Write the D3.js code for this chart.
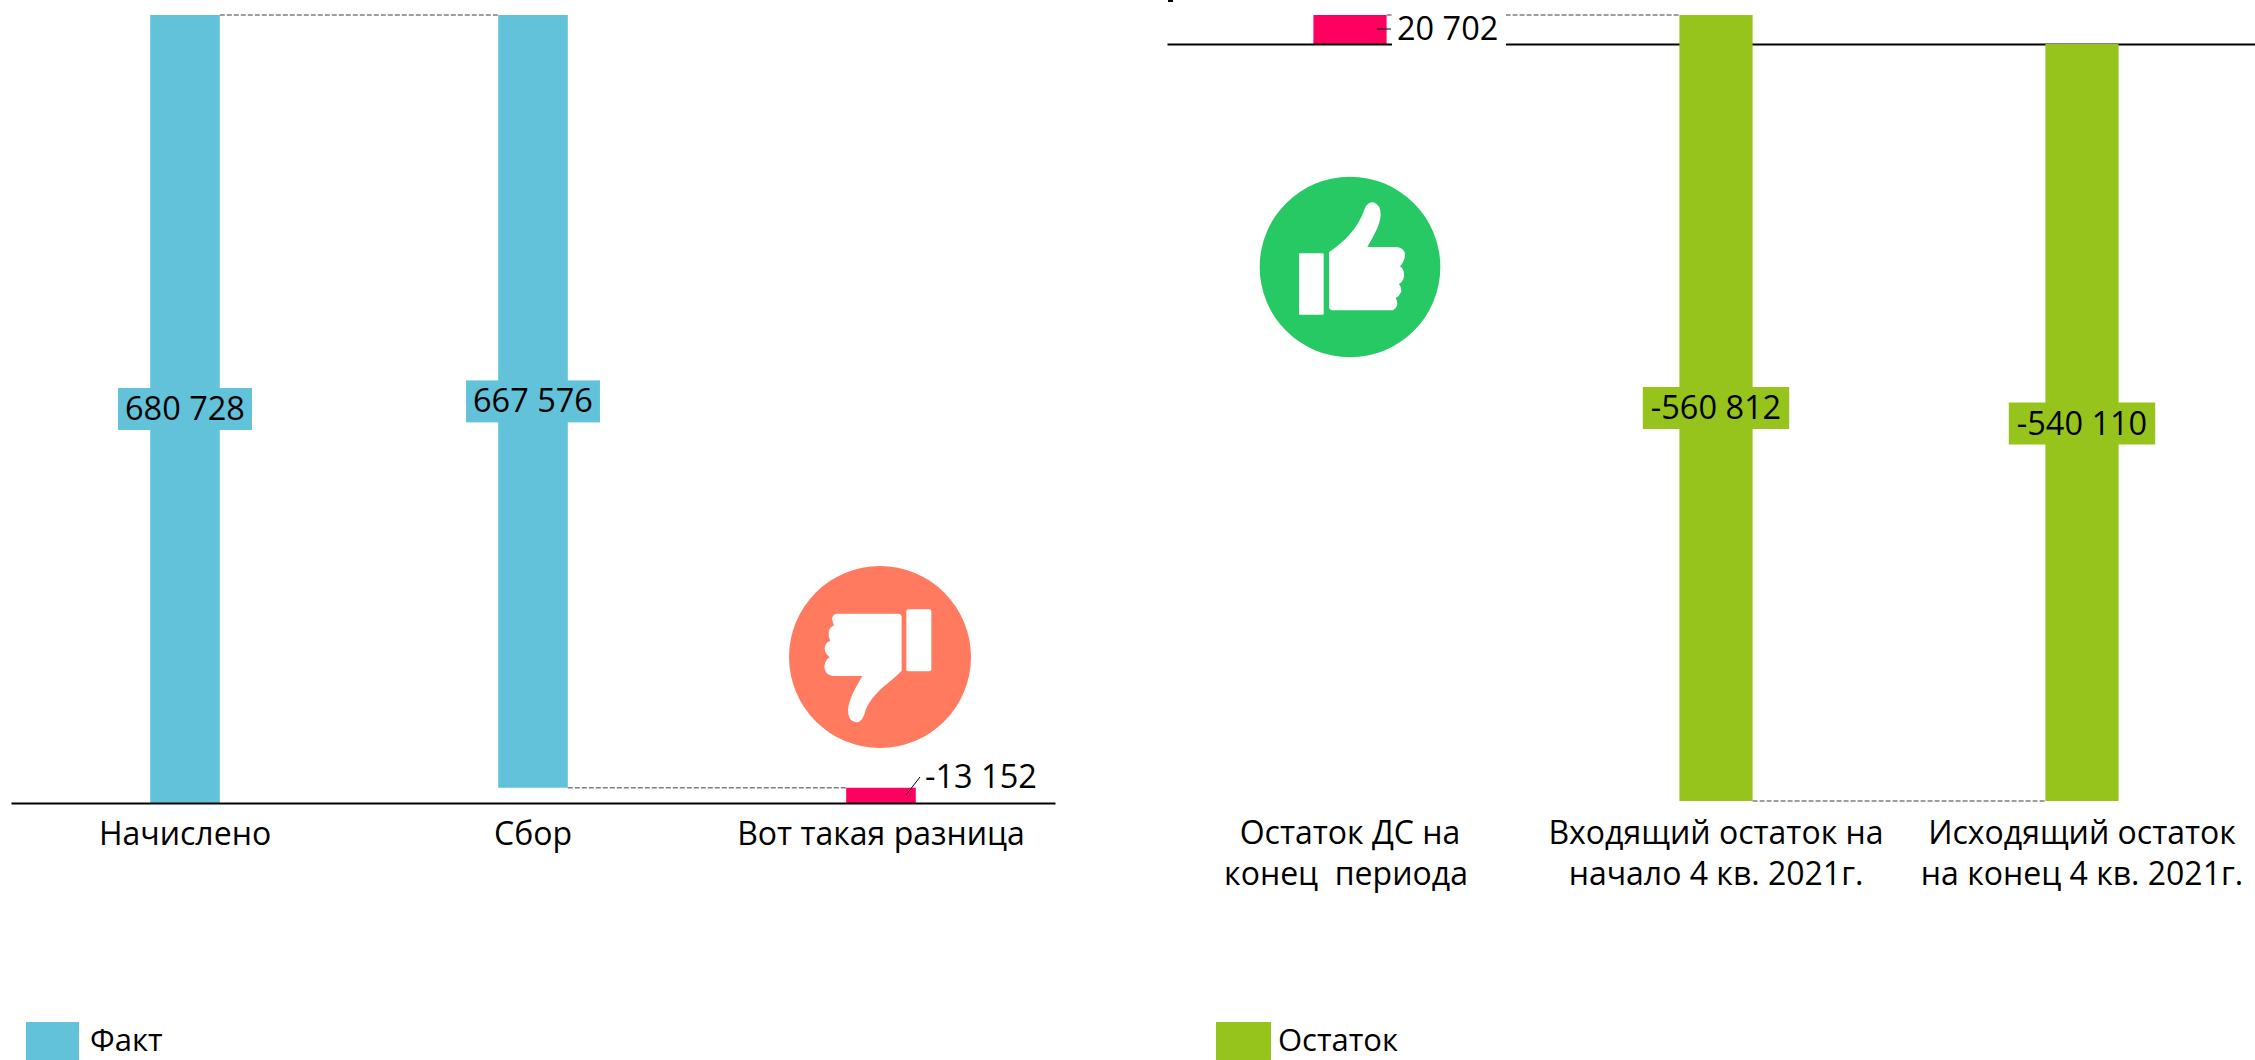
<!DOCTYPE html>
<html>
<head>
<meta charset="utf-8">
<script src="https://cdn.jsdelivr.net/npm/d3@7"></script>
<style>
  html, body { margin: 0; background: #fff; }
  svg { display: block; }
  text { font-family: "Open Sans", sans-serif; font-size: 32px; fill: #000; }
  .val { font-size: 32.5px; }
  .leg { font-size: 31px; }
</style>
</head>
<body>
<div id="chart"></div>
<script>
// left chart
const catsFact = ["Начислено", "Сбор", "Вот такая разница"];
const factFrom = [0, 13152, 0];
const factTo = [680728, 680728, 13152];
const factLabels = ["680 728", "667 576", "-13 152"];

// right chart
const catsOst = [["Остаток ДС на", "конец  периода"], ["Входящий остаток на", "начало 4 кв. 2021г."], ["Исходящий остаток", "на конец 4 кв. 2021г."]];
const ostFrom = [0, 20702, 0];
const ostTo = [20702, -540110, -540110];
const ostLabels = ["20 702", "-560 812", "-540 110"];

const blue = "#62c2da";
const green = "#97c41c";
const pink = "#ff0060";

const svg = d3.select("#chart").append("svg").attr("width", 2255).attr("height", 1060);

const xLeft = d3.scaleBand().domain(catsFact).range([11, 1055]).paddingInner(0.8).paddingOuter(0.4);
const yLeft = d3.scaleLinear().domain([0, 680728]).range([803, 15]);

const xKeys = catsOst.map(d => d.join(" "));
const xRight = d3.scaleBand().domain(xKeys).range([1167, 2265]).paddingInner(0.8).paddingOuter(0.4);
const yRight = d3.scaleLinear().domain([-540110, 20702]).range([801, 15]);

function bars(keys, from, to, x, y, colors) {
    svg.append("g").selectAll("rect").data(keys).enter().append("rect")
        .attr("x", d => x(d))
        .attr("width", x.bandwidth())
        .attr("y", (d, i) => y(Math.max(from[i], to[i])))
        .attr("height", (d, i) => Math.abs(y(from[i]) - y(to[i])))
        .attr("fill", (d, i) => colors[i]);
}

function connector(x1, x2, y) {
    svg.append("line")
        .attr("x1", x1).attr("x2", x2).attr("y1", y).attr("y2", y)
        .attr("stroke", "#7f7f7f").attr("stroke-width", 1.5)
        .attr("stroke-dasharray", "5 2");
}

function boxLabel(str, cx, cy, color, pad) {
    const g = svg.append("g");
    const t = g.append("text").attr("class", "val").attr("x", cx).attr("y", cy + 11).attr("text-anchor", "middle").text(str);
    const b = t.node().getBBox();
    g.insert("rect", "text")
        .attr("x", b.x - pad).attr("width", b.width + pad * 2)
        .attr("y", cy - 21).attr("height", 42)
        .attr("fill", color);
}

bars(catsFact, factFrom, factTo, xLeft, yLeft, [blue, blue, pink]);

// pink bar sits under the axis, the green ones over it
bars(xKeys.slice(0, 1), ostFrom.slice(0, 1), ostTo.slice(0, 1), xRight, yRight, [pink]);

// axes
const axisLeft = svg.append("g").attr("transform", "translate(0," + yLeft(0) + ")")
    .call(d3.axisBottom(xLeft).tickSize(0).tickPadding(0));
axisLeft.select(".domain").attr("stroke", "#000").attr("stroke-width", 2);
axisLeft.selectAll("text").attr("y", 42).attr("dy", 0).style("font-size", "32px").style("font-family", null);

const axisRight = svg.append("g").attr("transform", "translate(0," + yRight(0) + ")")
    .call(d3.axisBottom(xRight).tickSize(0).tickFormat(""));
axisRight.select(".domain").attr("stroke", "#000").attr("stroke-width", 2);

bars(xKeys.slice(1), ostFrom.slice(1), ostTo.slice(1), xRight, yRight, [green, green]);

// connectors between bars
connector(xLeft(catsFact[0]) + xLeft.bandwidth(), xLeft(catsFact[1]), yLeft(680728));
connector(xLeft(catsFact[1]) + xLeft.bandwidth(), xLeft(catsFact[2]), yLeft(13152));
connector(xRight(xKeys[0]) + xRight.bandwidth(), xRight(xKeys[1]), yRight(20702));
connector(xRight(xKeys[1]) + xRight.bandwidth(), xRight(xKeys[2]), yRight(-540110));

// two-line category labels
const catRight = svg.append("g");
catsOst.forEach((lines, i) => {
    const t = catRight.append("text")
        .attr("text-anchor", "middle")
        .attr("xml:space", "preserve");
    lines.forEach((s, j) => {
        t.append("tspan")
            .attr("x", xRight(xKeys[i]) + xRight.bandwidth() / 2 - (i == 0 && j == 1 ? 4 : 0))
            .attr("y", 844 + j * 41)
            .text(s);
    });
});

// value labels
boxLabel(factLabels[0], xLeft(catsFact[0]) + xLeft.bandwidth() / 2, (yLeft(0) + yLeft(680728)) / 2, blue, 7);
boxLabel(factLabels[1], xLeft(catsFact[1]) + xLeft.bandwidth() / 2, (yLeft(13152) + yLeft(680728)) / 2, blue, 7);
boxLabel(ostLabels[1], xRight(xKeys[1]) + xRight.bandwidth() / 2, (yRight(20702) + yRight(-540110)) / 2, green, 8);
boxLabel(ostLabels[2], xRight(xKeys[2]) + xRight.bandwidth() / 2, (yRight(0) + yRight(-540110)) / 2 + 1, green, 8);

// outside labels with leader lines
svg.append("line").attr("x1", 906).attr("y1", 795).attr("x2", 920).attr("y2", 777).attr("stroke", "#000").attr("stroke-width", 1);
svg.append("text").attr("class", "val").attr("x", 925).attr("y", 788).text(factLabels[2]);

svg.append("rect").attr("x", 1392).attr("y", 10).attr("width", 114).attr("height", 38).attr("fill", "#fff");
svg.append("line").attr("x1", 1377).attr("y1", 29).attr("x2", 1391).attr("y2", 29).attr("stroke", "#000").attr("stroke-width", 1);
svg.append("text").attr("class", "val").attr("x", 1397).attr("y", 40).text(ostLabels[0]);

// clipped remnant at the top edge
svg.append("rect").attr("x", 1168).attr("y", 0).attr("width", 5).attr("height", 2).attr("fill", "#000");

// icons
const down = svg.append("g").attr("transform", "translate(880,657) scale(0.3333) translate(-541,-411)");
down.append("circle").attr("cx", 541).attr("cy", 411).attr("r", 273).attr("fill", "#ff7a5f");
down.append("rect").attr("x", 620).attr("y", 268).attr("width", 75).attr("height", 186).attr("rx", 6).attr("fill", "#fff");
down.append("path").attr("fill", "#fff")
    .attr("d", "M412,281 L595,281 Q606,281 606,292 L606,452 C570,490 520,515 498,570 Q490,607 470,607 Q445,605 445,570 C448,535 470,500 488,468 L400,468 Q375,465 374,440 Q376,420 390,412 Q375,400 375,385 Q376,368 392,362 Q385,350 387,335 Q390,322 403,316 Q396,300 398,292 Q402,281 412,281 Z");

const up = svg.append("g").attr("transform", "translate(1350,267) scale(0.3333) translate(-360,-322)");
up.append("circle").attr("cx", 360).attr("cy", 322).attr("r", 271).attr("fill", "#27c964");
up.append("rect").attr("x", 207).attr("y", 281).attr("width", 74).attr("height", 184).attr("rx", 3).attr("fill", "#fff");
up.append("path").attr("fill", "#fff")
    .attr("d", "M297,278 C345,245 385,205 405,145 Q412,128 430,128 Q452,135 452,165 C450,200 428,232 412,262 L500,262 Q524,265 525,285 Q524,305 510,320 Q524,330 522,350 Q520,365 507,373 Q516,385 513,398 Q508,410 497,415 Q504,425 501,438 Q495,452 482,452 L305,452 Q297,450 297,442 Z");

// legends
svg.append("rect").attr("x", 26).attr("y", 1022).attr("width", 53).attr("height", 38).attr("fill", blue);
svg.append("text").attr("class", "leg").attr("x", 90).attr("y", 1051).text("Факт");
svg.append("rect").attr("x", 1216).attr("y", 1022).attr("width", 55).attr("height", 38).attr("fill", green);
svg.append("text").attr("class", "leg").attr("x", 1278).attr("y", 1051).text("Остаток");
</script>
</body>
</html>
